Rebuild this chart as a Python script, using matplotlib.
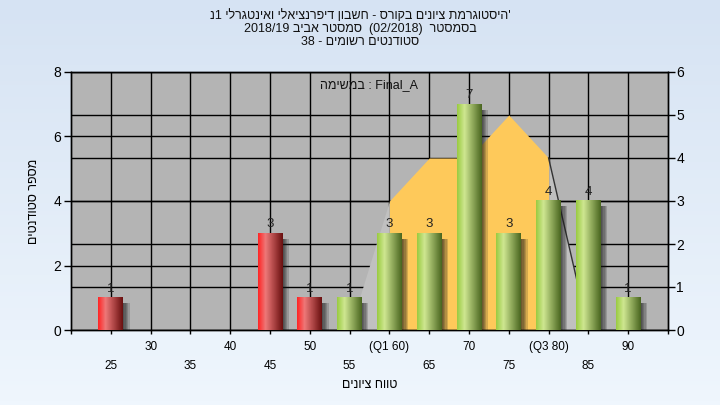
import re
import numpy as np
import matplotlib
matplotlib.use('Agg')
import matplotlib.pyplot as plt
import matplotlib.transforms as mtransforms
from matplotlib.colors import LinearSegmentedColormap
from matplotlib.lines import Line2D
from matplotlib.patches import Rectangle

plt.rcParams['font.family'] = ['Liberation Sans', 'DejaVu Sans']

# histogram data
grades = [25, 30, 35, 40, 45, 50, 55, 60, 65, 70, 75, 80, 85, 90]
counts = [1, 0, 0, 0, 3, 1, 1, 3, 3, 7, 3, 4, 4, 1]
bar_kind = ['fail', 'fail', 'fail', 'fail', 'fail', 'fail',
            'pass', 'pass', 'pass', 'pass', 'pass', 'pass', 'pass', 'pass']
# two rows of tick labels - every other one pushed down a line
tick_labels = ['\n25', '30', '\n35', '40', '\n45', '50', '\n55', '(Q1 60)',
               '\n65', '70', '\n75', '(Q3 80)', '\n85', '90']

# distribution shape behind the bars (right axis), Q1..Q3 in yellow
curve_x = [55, 60, 65, 70, 75, 80, 85]
curve_y = [0, 3, 4, 4, 5, 4, 0]
q1, q3 = 60, 80

title_lines = ["'היסטוגרמת ציונים בקורס - חשבון דיפרנציאלי ואינטגרלי 1נ",
               "בסמסטר  (02/2018)  סמסטר אביב 2018/19",
               "סטודנטים רשומים - 38"]
task_word = 'במשימה'
task_name = 'Final_A'
xlabel = 'טווח ציונים'
ylabel = 'מספר סטודנטים'


def rtl(s):
    # matplotlib has no bidi support: flip hebrew, keep numbers/latin as is
    s = s[::-1]
    s = re.sub(r'[0-9A-Za-z_/.]+', lambda m: m.group(0)[::-1], s)
    return s.translate(str.maketrans('()', ')('))


fig = plt.figure(figsize=(7.2, 4.05), dpi=100)

# light blue background gradient
bg = fig.add_axes([0, 0, 1, 1])
bg_cmap = LinearSegmentedColormap.from_list('bg', ['#eff6fd', '#d6e3f3'])
bg.imshow(np.linspace(0, 1, 100).reshape(-1, 1), cmap=bg_cmap, aspect='auto',
          origin='lower', extent=(0, 1, 0, 1))
bg.axis('off')
bg.set_zorder(0)

ax = fig.add_axes([71 / 720, 1 - 330 / 405, 597 / 720, 258 / 405])
ax2 = ax.twinx()
ax2.set_zorder(1)
ax.set_zorder(2)
ax.patch.set_visible(False)
ax2.patch.set_visible(True)
ax2.patch.set_facecolor('#b4b4b4')

# grid (below the distribution area)
ax2.set_yticks(range(7))
ax2.set_ylim(0, 6)
ax2.set_axisbelow(True)
ax2.grid(axis='y', color='black', lw=1)
for g in grades:
    ax2.axvline(g, color='black', lw=1, zorder=1)
left_tr = mtransforms.blended_transform_factory(ax2.transAxes, ax.transData)
for v in [2, 4, 6]:
    ax2.add_line(Line2D([0, 1], [v, v], transform=left_tr, color='black', lw=1, zorder=1))

# distribution area
cx = np.array(curve_x)
cy = np.array(curve_y)
inner = (cx >= q1) & (cx <= q3)
left = cx <= q1
right = cx >= q3
ax2.fill_between(cx[left], cy[left], color='#c0c0c0', lw=0, zorder=2)
ax2.fill_between(cx[right], cy[right], color='#c0c0c0', lw=0, zorder=2)
ax2.fill_between(cx[inner], cy[inner], color='#fec95a', lw=0, zorder=2)
ax2.plot(cx[right], cy[right], color='#333333', lw=1, zorder=3)

# bars with cylinder shading and soft shadow
red_cmap = LinearSegmentedColormap.from_list('r', [(0, '#ff2424'), (0.3, '#ee7878'), (1, '#6a1010')])
green_cmap = LinearSegmentedColormap.from_list('g', [(0, '#9acb42'), (0.3, '#cfe791'), (1, '#4a6620')])
ramp = np.linspace(0, 1, 64).reshape(1, -1)
bar_w = 3.1
sh = 0.8
for g, c, kind in zip(grades, counts, bar_kind):
    if c == 0:
        continue
    x0, x1 = g - bar_w / 2, g + bar_w / 2
    for k in range(5):
        ax.add_patch(Rectangle((x1, 0), sh * (k + 1) / 5, c - 0.17,
                               facecolor='#1a1a1a', alpha=0.18, lw=0, zorder=2))
    ax.imshow(ramp, cmap=red_cmap if kind == 'fail' else green_cmap,
              extent=(x0, x1, 0, c), aspect='auto', interpolation='bilinear', zorder=3)
    ax.annotate(str(c), (g, c), xytext=(0, 2), textcoords='offset points',
                ha='center', va='bottom', fontsize=9.5, color='#222222', zorder=5)

ax.set_xlim(20, 95)
ax.set_ylim(0, 8)
ax2.set_ylim(0, 6)

ax.set_yticks([0, 2, 4, 6, 8])
ax.tick_params(axis='y', direction='out', length=5, width=1, labelsize=10, pad=2)
ax2.tick_params(axis='y', direction='out', length=5, width=1, labelsize=10, pad=1)
ax.set_xticks(grades, tick_labels)
ax.set_xticks([20, 95], minor=True)
ax.tick_params(axis='x', which='both', direction='out', length=3, width=1, labelsize=8.5, pad=5)
for lbl in ax.get_xticklabels():
    lbl.set_linespacing(1.8)

for a in (ax, ax2):
    for s in a.spines.values():
        s.set_color('black')
        s.set_linewidth(1)

ax.set_xlabel(rtl(xlabel), fontsize=9, labelpad=5)
ax.set_ylabel(rtl(ylabel), fontsize=9, labelpad=10)

ax.text(0.5, 0.95, rtl(task_word) + ' : ' + task_name, transform=ax.transAxes,
        ha='center', va='center', fontsize=9, color='#111111', zorder=6)

for i, line in enumerate(title_lines):
    fig.text(0.5, 1 - (16 + 13 * i) / 405, rtl(line), ha='center', va='center',
             fontsize=9, color='#111111')

fig.savefig('out.png', dpi=100)
